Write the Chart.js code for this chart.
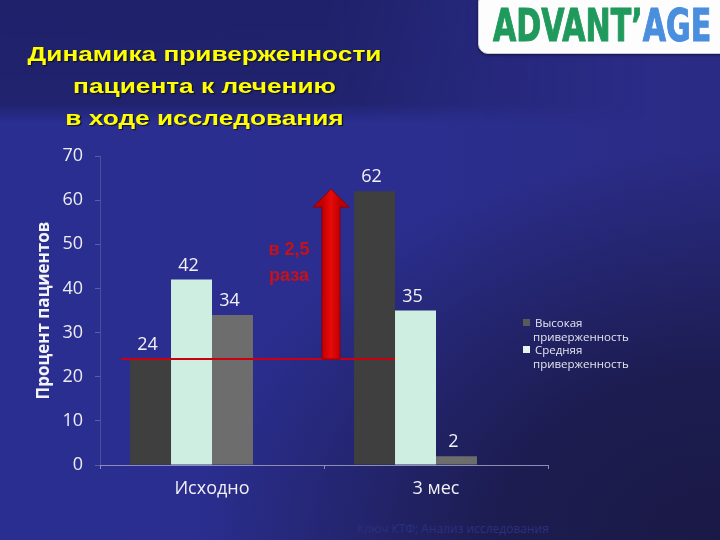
<!DOCTYPE html>
<html><head><meta charset="utf-8">
<script src="https://cdn.jsdelivr.net/npm/chart.js@4"></script>
<style>
html,body{margin:0;padding:0;}
body{width:720px;height:540px;overflow:hidden;position:relative;
 background:
  radial-gradient(ellipse 620px 460px at 100% 100%, #1a1946 0%, #1c1c50 35%, rgba(40,44,140,0) 85%),
  linear-gradient(to right, #2a2e90 0%, #2b2e8e 60%, #2a2b84 100%);
 font-family:"Open Sans",sans-serif;}
#hdr{position:absolute;left:0;top:0;width:720px;height:122px;
 background:linear-gradient(to bottom, rgba(18,18,60,0.45) 0%, rgba(18,18,60,0.4) 85%, rgba(18,18,60,0) 100%);
 -webkit-mask-image:linear-gradient(to right, #000 0%, #000 45%, transparent 90%);}
#title{position:absolute;left:6px;top:38px;width:400px;text-align:center;color:#ffff00;
 font:bold 21px "Liberation Sans",Arial,sans-serif;line-height:32px;text-shadow:1px 1px 1px #101030;
 transform:scaleX(1.25);transform-origin:206px 0;}
#logo{position:absolute;left:478px;top:-8px;width:260px;height:60px;background:#fdfdfd;border-radius:10px;
 border:1px solid #c8c8d8;box-shadow:0 1px 3px rgba(0,0,0,.5);}
#logotext{position:absolute;left:493px;top:2px;font:bold 44px "DejaVu Sans Condensed","Liberation Sans",sans-serif;
 line-height:48px;white-space:nowrap;transform:scaleX(0.76);transform-origin:0 0;-webkit-text-stroke:1px currentColor;}
#logotext .g{color:#1f9a5c;} #logotext .b{color:#4a8ede;}
#legend{position:absolute;left:523px;top:316px;color:#e4e4ee;font-size:11.5px;line-height:13.5px;}
#legend .it{margin:0;}
#legend .mk{display:inline-block;width:7px;height:7px;margin-right:5px;vertical-align:1px;}
#legend .l2{padding-left:10px;}
#foot{position:absolute;left:357px;top:520px;color:#2a3080;font-size:12px;white-space:nowrap;}
canvas{position:absolute;left:0;top:0;}
</style></head>
<body>
<div id="hdr"></div>
<div id="title">Динамика приверженности<br>пациента к лечению<br>в ходе исследования</div>
<div id="logo"></div>
<div id="logotext"><span class="g">ADVANT’</span><span class="b">AGE</span></div>
<div id="foot">Ключ КТФ; Анализ исследования</div>
<canvas id="c" width="720" height="540"></canvas>
<div id="legend"></div>
<script>
const categories = ["Исходно", "3 мес"];
const seriesNames = ["Высокая приверженность", "Средняя приверженность", "Низкая приверженность", ""];
const highValues = [24, 62];
const mediumValues = [42, 35];
const lowValues = [34, 2];
const emptyValues = [null, null];
const yTicks = [0, 10, 20, 30, 40, 50, 60, 70];
const growthText = ["в 2,5", "раза"];
const arrowTopValue = 62.5;
const legendShown = 2;

const colors = ["#3f3f3f", "#cdeee0", "#6d6d6d", "rgba(0,0,0,0)"];
const legendColors = ["#5a5a5a", "#e6f4ee"];

const labelsPlugin = {
  id: "valueLabels",
  afterDatasetsDraw(chart) {
    const ctx = chart.ctx;
    ctx.save();
    ctx.font = '18px "Open Sans", sans-serif';
    ctx.fillStyle = "#f2f2f6";
    ctx.textAlign = "center";
    ctx.textBaseline = "middle";
    chart.data.datasets.forEach((ds, i) => {
      const meta = chart.getDatasetMeta(i);
      meta.data.forEach((el, j) => {
        const v = ds.data[j];
        if (v === null || v === undefined) return;
        ctx.fillText(String(v), el.x - 3, el.y - 14);
      });
    });
    ctx.restore();
  }
};

const annotPlugin = {
  id: "growthArrow",
  afterDatasetsDraw(chart) {
    const ctx = chart.ctx;
    const xs = chart.scales.x, ys = chart.scales.y;
    const m0 = chart.getDatasetMeta(0);
    const e0 = m0.data[0], e1 = m0.data[1];
    const baseY = ys.getPixelForValue(highValues[0]);
    ctx.save();
    ctx.strokeStyle = "#c80010";
    ctx.lineWidth = 2;
    ctx.beginPath();
    ctx.moveTo(e0.x - e0.width / 2 - 9, baseY);
    ctx.lineTo(e1.x + e1.width / 2, baseY);
    ctx.stroke();
    const ax = (xs.getPixelForValue(0) + xs.getPixelForValue(1)) / 2 + 7;
    const tipY = ys.getPixelForValue(arrowTopValue);
    const headH = 18, headW = 18, shaftW = 9;
    ctx.beginPath();
    ctx.moveTo(ax - shaftW, baseY);
    ctx.lineTo(ax - shaftW, tipY + headH);
    ctx.lineTo(ax - headW, tipY + headH);
    ctx.lineTo(ax, tipY);
    ctx.lineTo(ax + headW, tipY + headH);
    ctx.lineTo(ax + shaftW, tipY + headH);
    ctx.lineTo(ax + shaftW, baseY);
    ctx.closePath();
    const g = ctx.createLinearGradient(ax - shaftW, 0, ax + shaftW, 0);
    g.addColorStop(0, "#c00000"); g.addColorStop(0.5, "#e80a0a"); g.addColorStop(1, "#c00000");
    ctx.fillStyle = g;
    ctx.fill();
    ctx.strokeStyle = "#8a0010";
    ctx.lineWidth = 1;
    ctx.stroke();
    ctx.font = 'bold 18px "Liberation Sans", Arial, sans-serif';
    ctx.fillStyle = "#c8101a";
    ctx.textAlign = "center";
    ctx.textBaseline = "middle";
    ctx.fillText(growthText[0], ax - 42, ys.getPixelForValue(48.6));
    ctx.fillText(growthText[1], ax - 42, ys.getPixelForValue(42.9));
    ctx.restore();
  }
};

const chart = new Chart(document.getElementById("c"), {
  type: "bar",
  data: {
    labels: categories,
    datasets: [highValues, mediumValues, lowValues, emptyValues].map((d, i) => ({
      label: seriesNames[i],
      data: d,
      backgroundColor: colors[i],
      borderWidth: 0,
      categoryPercentage: 0.732,
      barPercentage: 1.0
    }))
  },
  options: {
    responsive: false,
    animation: false,
    devicePixelRatio: 1,
    layout: { padding: { left: 34, right: 172, top: 156, bottom: 0 } },
    plugins: { legend: { display: false }, tooltip: { enabled: false }, title: { display: false } },
    scales: {
      x: {
        afterFit: s => { s.height = 75; },
        border: { display: true, color: "#8c8cb4", width: 1 },
        grid: { display: true, drawOnChartArea: false, offset: true, color: "#8c8cb4", tickLength: 4 },
        ticks: { color: "#f0f0f4", font: { family: "Open Sans", size: 18 }, padding: 9 }
      },
      y: {
        min: 0, max: 70,
        afterFit: s => { s.width = 66; },
        afterBuildTicks: s => { s.ticks = yTicks.map(v => ({ value: v })); },
        border: { display: true, color: "rgba(140,140,180,0.35)", width: 1 },
        grid: { display: true, drawOnChartArea: false, color: "rgba(150,150,190,0.45)", tickLength: 5 },
        ticks: { color: "#ececf2", font: { family: "Open Sans", size: 18 }, padding: 12 },
        title: { display: true, text: "Процент пациентов", color: "#f4f4f8",
          font: { family: "Open Sans", size: 17, weight: "bold" }, padding: { top: 0, bottom: 0 } }
      }
    }
  },
  plugins: [labelsPlugin, annotPlugin]
});

const leg = document.getElementById("legend");
for (let i = 0; i < legendShown; i++) {
  const parts = seriesNames[i].split(" ");
  const d = document.createElement("div");
  d.className = "it";
  d.innerHTML = '<div><span class="mk" style="background:' + legendColors[i] + '"></span>' + parts[0] + '</div><div class="l2">' + parts.slice(1).join(" ") + '</div>';
  leg.appendChild(d);
}
</script>
</body></html>
